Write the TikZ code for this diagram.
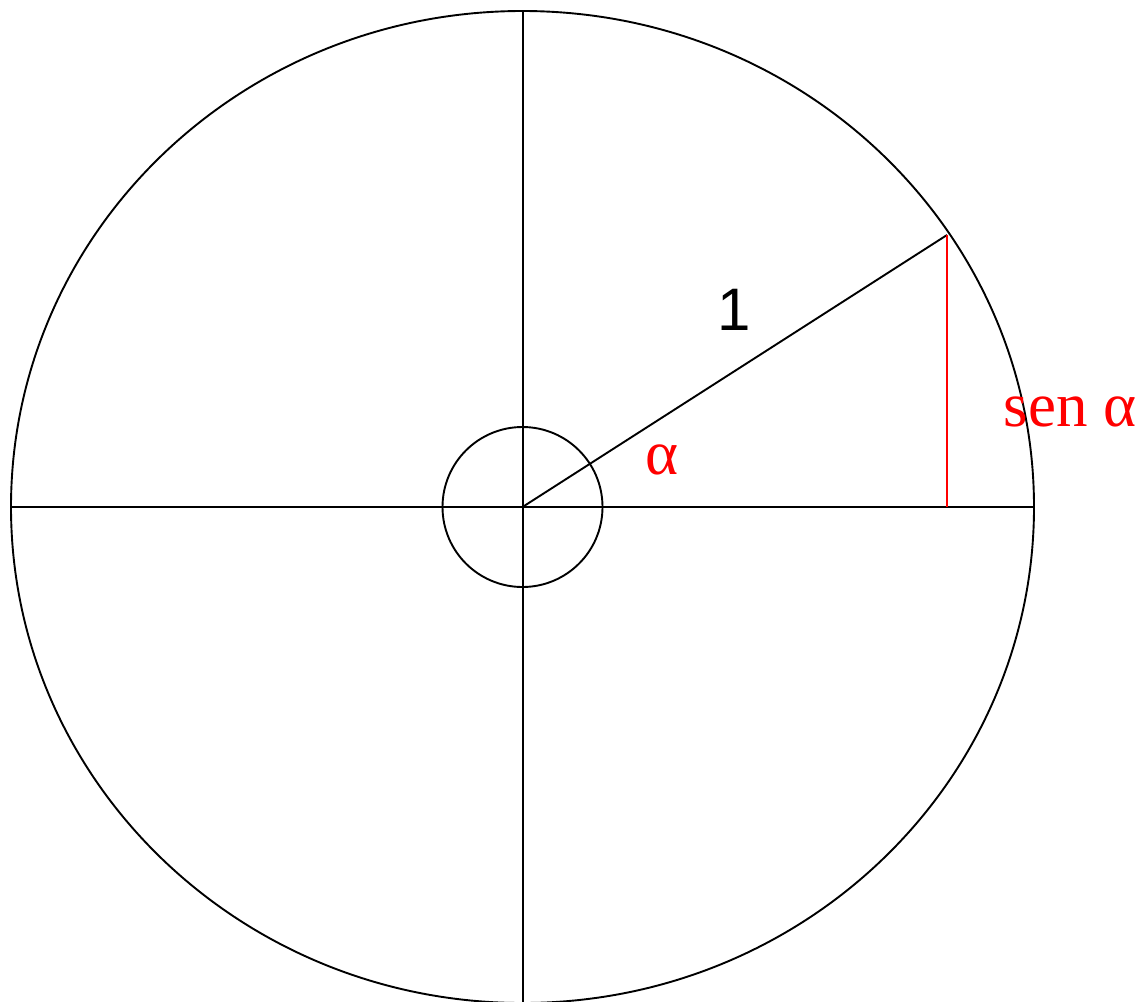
\documentclass[tikz,border=0pt]{standalone}
\usepackage{fontspec}
\setmainfont{Liberation Serif}
\newfontfamily\labsans{Liberation Sans}
\begin{document}
\begin{tikzpicture}[x=1pt,y=-1pt,
  blk/.style={line width=1.9pt,black},
  redl/.style={line width=2.2pt,red},
  serlab/.style={text=red,font=\fontsize{63}{70}\selectfont,inner sep=0pt,anchor=base},
  sanlab/.style={text=black,font=\labsans\fontsize{60}{70}\selectfont,inner sep=0pt,anchor=base}]
\useasboundingbox (0,0) rectangle (1145,1001);
\clip (0,0) rectangle (1145,1001);
\coordinate (O) at (522.5,507);
\coordinate (P) at (947,235);
\coordinate (Q) at (947,507);
\coordinate (L) at (11,507);
\coordinate (R) at (1034,507);
\coordinate (T) at (523,11);
\coordinate (B) at (523,1003);
\draw[blk] (O) ellipse [x radius=511.5, y radius=496];
\draw[blk] (L) -- (R);
\draw[blk] (T) -- (B);
\draw[blk] (O) circle [radius=80];
\draw[blk] (O) -- (P);
\draw[redl] (P) -- (Q);
\node[sanlab] (one) at (734,330) {1};
\node[serlab] (alpha) at (662,474) {α};
\node[serlab] (sen) at (1070,426) {sen α};
\end{tikzpicture}
\end{document}
